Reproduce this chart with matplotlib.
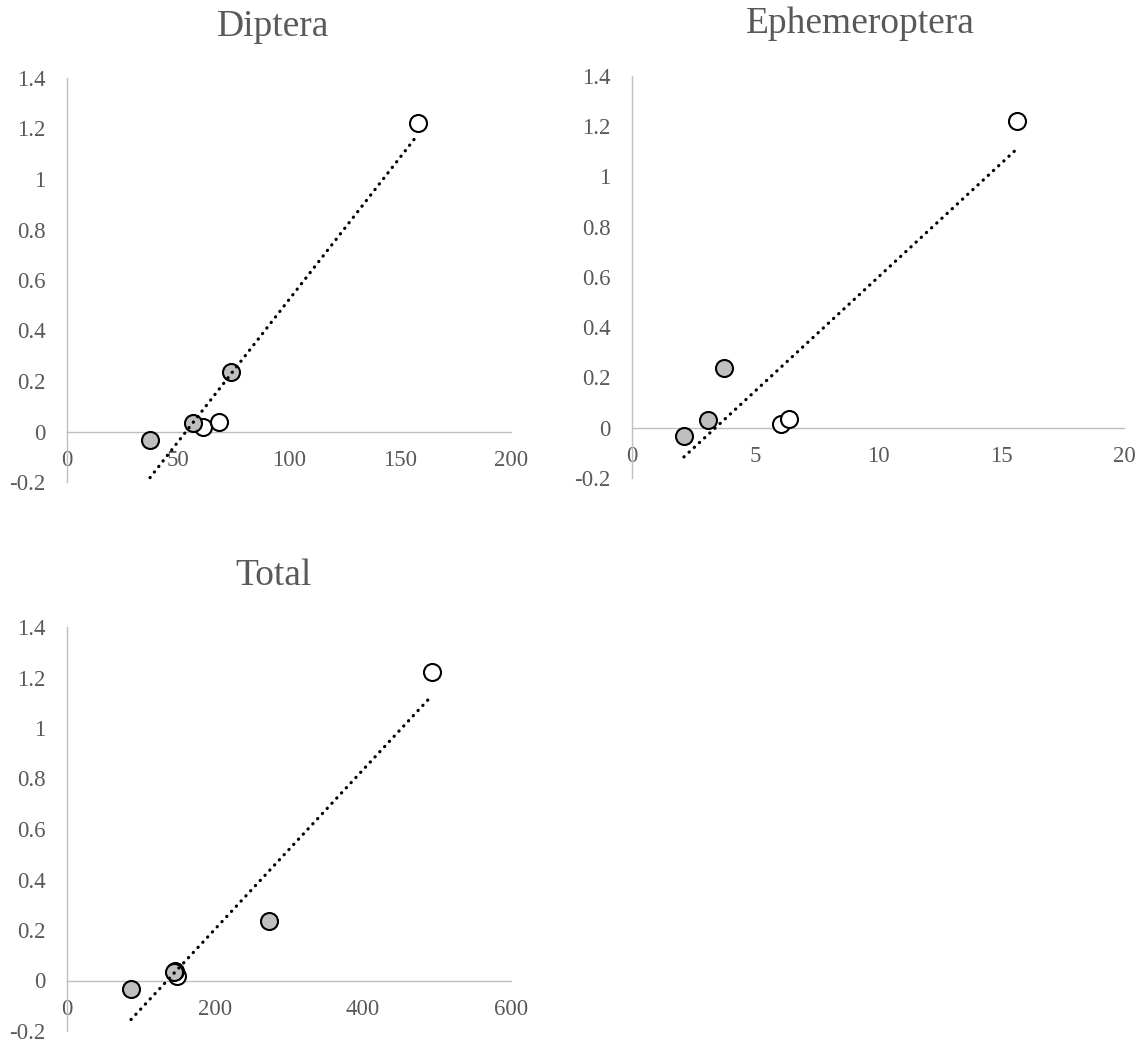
import numpy as np
import matplotlib
matplotlib.use("Agg")
import matplotlib.pyplot as plt

# Data (y values shared across panels)
gray_y = [-0.032, 0.032, 0.237]
white_y = [0.016, 0.036, 1.221]

diptera_gray_x = [37.4, 56.8, 73.9]
diptera_white_x = [61.3, 68.5, 158.0]

ephem_gray_x = [2.11, 3.09, 3.74]
ephem_white_x = [6.06, 6.38, 15.65]

total_gray_x = [86.5, 144.6, 273.0]
total_white_x = [148.6, 146.0, 493.0]

y_ticks = [-0.2, 0, 0.2, 0.4, 0.6, 0.8, 1.0, 1.2, 1.4]
y_tick_labels = ["-0.2", "0", "0.2", "0.4", "0.6", "0.8", "1", "1.2", "1.4"]

panels = [
    dict(title="Diptera", gx=diptera_gray_x, wx=diptera_white_x,
         xticks=[0, 50, 100, 150, 200], xlim=(0, 200),
         rect=[67, 78, 511, 482], title_xy=(273, 36)),
    dict(title="Ephemeroptera", gx=ephem_gray_x, wx=ephem_white_x,
         xticks=[0, 5, 10, 15, 20], xlim=(0, 20),
         rect=[632, 76, 1124, 478], title_xy=(860, 33)),
    dict(title="Total", gx=total_gray_x, wx=total_white_x,
         xticks=[0, 200, 400, 600], xlim=(0, 600),
         rect=[67, 627, 511, 1031], title_xy=(273, 585)),
]

W, H = 1143, 1046
plt.rcParams['font.family'] = ['Liberation Serif', 'DejaVu Serif']
fig = plt.figure(figsize=(W / 100, H / 100), dpi=100)

text_color = '#595959'
spine_color = '#BFBFBF'

for p in panels:
    x0, y0, x1, y1 = p['rect']
    ax = fig.add_axes([x0 / W, 1 - y1 / H, (x1 - x0) / W, (y1 - y0) / H])
    ax.set_xlim(*p['xlim'])
    ax.set_ylim(-0.2, 1.4)
    for s in ['top', 'right']:
        ax.spines[s].set_visible(False)
    ax.spines['bottom'].set_position(('data', 0))
    ax.spines['left'].set_position(('data', 0))
    for s in ['bottom', 'left']:
        ax.spines[s].set_color(spine_color)
        ax.spines[s].set_linewidth(1.0)
    ax.set_xticks(p['xticks'])
    ax.set_xticklabels([str(t) for t in p['xticks']])
    ax.set_yticks(y_ticks)
    ax.set_yticklabels(y_tick_labels)
    ax.tick_params(axis='both', length=0, labelsize=16.5, colors=text_color)
    ax.tick_params(axis='x', pad=13.5)
    ax.tick_params(axis='y', pad=15.5)
    ax.set_facecolor('none')

    allx = np.array(p['gx'] + p['wx'])
    ally = np.array(gray_y + white_y)
    m, b = np.polyfit(allx, ally, 1)
    xs = np.array([allx.min(), allx.max()])
    ax.plot(xs, m * xs + b, color='black', lw=2.3,
            linestyle=(0, (0.1, 2.1)), dash_capstyle='round', zorder=6,
            clip_on=False)

    ax.scatter(p['wx'], white_y, s=150, facecolor='white', edgecolor='black',
               linewidth=1.5, zorder=4, clip_on=False)
    ax.scatter(p['gx'], gray_y, s=150, facecolor='#BFBFBF', edgecolor='black',
               linewidth=1.5, zorder=5, clip_on=False)

    tx, ty = p['title_xy']
    fig.text(tx / W, 1 - ty / H, p['title'],
             ha='center', va='baseline', fontsize=27, color=text_color)

fig.savefig('out.png', dpi=100)
